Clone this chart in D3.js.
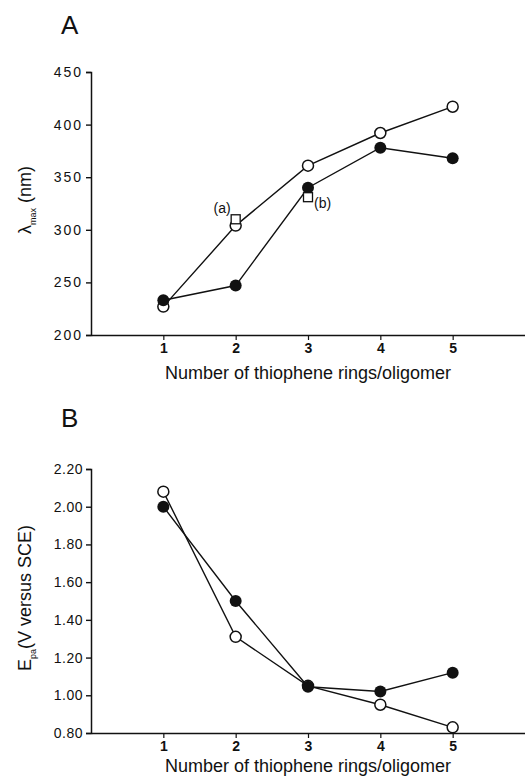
<!doctype html>
<html>
<head>
<script src="https://d3js.org/d3.v7.min.js"></script>
<style>
  body { margin: 0; background: #fff; }
  text { font-family: "Liberation Sans", Arial, sans-serif; fill: #111; }
</style>
</head>
<body>
<svg id="chart" width="525" height="777"></svg>
<script>
// ring counts
var rings = [1, 2, 3, 4, 5];
// panel A: lambda max (nm)
var lambdaOpen = [227, 304, 361, 392, 417];
var lambdaFilled = [233, 247, 340, 378, 368];
var lambdaSquares = [{x: 2, y: 310, label: "(a)"}, {x: 3, y: 331, label: "(b)"}];
var lambdaTicks = [200, 250, 300, 350, 400, 450];
// panel B: Epa (V versus SCE)
var epaOpen = [2.08, 1.31, 1.05, 0.95, 0.83];
var epaFilled = [2.00, 1.50, 1.045, 1.02, 1.12];
var epaTicks = [0.8, 1.0, 1.2, 1.4, 1.6, 1.8, 2.0, 2.2];

var svg = d3.select("#chart")
var x = d3.scaleLinear().domain([0, 6]).range([91, 525])

function panel(letter, letterY, y0, y1, domain, ticks, fmt, spacing, openVals, filledVals, titleFn, titleY, xlabY) {
    var y = d3.scaleLinear().domain(domain).range([y1, y0])
    var g = svg.append("g")

    svg.append("text").text(letter).attr("x", 61).attr("y", letterY)
        .attr("font-size", 26)

    // y axis
    var ya = g.append("g").attr("transform", "translate(91,0)")
        .call(d3.axisLeft(y).tickValues(ticks).tickFormat(fmt).tickSize(5).tickPadding(3))
    ya.select(".domain").attr("stroke", "#111").attr("stroke-width", 1.5)
    ya.selectAll(".tick line").attr("stroke", "#111").attr("stroke-width", 1.4)
    ya.selectAll(".tick text").attr("font-size", 14).attr("font-family", "Liberation Sans, Arial, sans-serif")
        .attr("letter-spacing", spacing).attr("fill", "#111")

    // x axis
    var xa = g.append("g").attr("transform", "translate(0," + y1 + ")")
        .call(d3.axisBottom(x).tickValues(rings).tickFormat(d3.format("d")).tickSize(5).tickPadding(3).tickSizeOuter(0))
    xa.select(".domain").attr("stroke", "#111").attr("stroke-width", 1.5)
    xa.selectAll(".tick line").attr("stroke", "#111").attr("stroke-width", 1.2)
    xa.selectAll(".tick text").attr("font-size", 14).attr("font-family", "Liberation Sans, Arial, sans-serif")
        .attr("font-weight", "bold").attr("fill", "#111")

    svg.append("text").text("Number of thiophene rings/oligomer")
        .attr("x", x(3)).attr("y", xlabY).attr("text-anchor", "middle").attr("font-size", 18)

    var t = svg.append("text").attr("transform", "translate(31," + titleY + ") rotate(-90)")
        .attr("text-anchor", "middle").attr("font-size", 18)
    titleFn(t)

    var line = d3.line().x(function(d, i) { return x(rings[i]) }).y(function(d) { return y(d) })
    g.append("path").datum(openVals).attr("d", line).attr("fill", "none").attr("stroke", "#111").attr("stroke-width", 1.4)
    g.append("path").datum(filledVals).attr("d", line).attr("fill", "none").attr("stroke", "#111").attr("stroke-width", 1.4)

    g.selectAll(".open").data(openVals).enter().append("circle")
        .attr("cx", function(d, i) { return x(rings[i]) }).attr("cy", function(d) { return y(d) })
        .attr("r", 5.5).attr("fill", "#fff").attr("stroke", "#111").attr("stroke-width", 1.5)
    g.selectAll(".filled").data(filledVals).enter().append("circle")
        .attr("cx", function(d, i) { return x(rings[i]) }).attr("cy", function(d) { return y(d) })
        .attr("r", 6).attr("fill", "#111")
    return y
}

var yA = panel("A", 34, 72, 335, [200, 450], lambdaTicks, d3.format("d"), 2, lambdaOpen, lambdaFilled, function(t) {
    t.append("tspan").text("λ")
    t.append("tspan").text("max").attr("font-size", 9).attr("dy", 5)
    t.append("tspan").text(" (nm)").attr("dy", -5)
}, 200, 379)

svg.selectAll(".sq").data(lambdaSquares).enter().append("rect")
    .attr("x", function(d) { return x(d.x) - 4.5 }).attr("y", function(d) { return yA(d.y) - 4.5 })
    .attr("width", 9).attr("height", 9).attr("fill", "#fff").attr("stroke", "#111").attr("stroke-width", 1.3)
svg.selectAll(".sqlab").data(lambdaSquares).enter().append("text")
    .text(function(d) { return d.label })
    .attr("x", function(d, i) { return i == 0 ? x(d.x) - 5 : x(d.x) + 6 })
    .attr("y", function(d, i) { return i == 0 ? yA(d.y) - 6 : yA(d.y) + 11 })
    .attr("text-anchor", function(d, i) { return i == 0 ? "end" : "start" })
    .attr("font-size", 14)

panel("B", 427, 469, 733, [0.8, 2.2], epaTicks, d3.format(".2f"), 0.5, epaOpen, epaFilled, function(t) {
    t.append("tspan").text("E")
    t.append("tspan").text("pa").attr("font-size", 9).attr("dy", 5)
    t.append("tspan").text("(V versus SCE)").attr("dy", -5)
}, 598, 772)
</script>
</body>
</html>
